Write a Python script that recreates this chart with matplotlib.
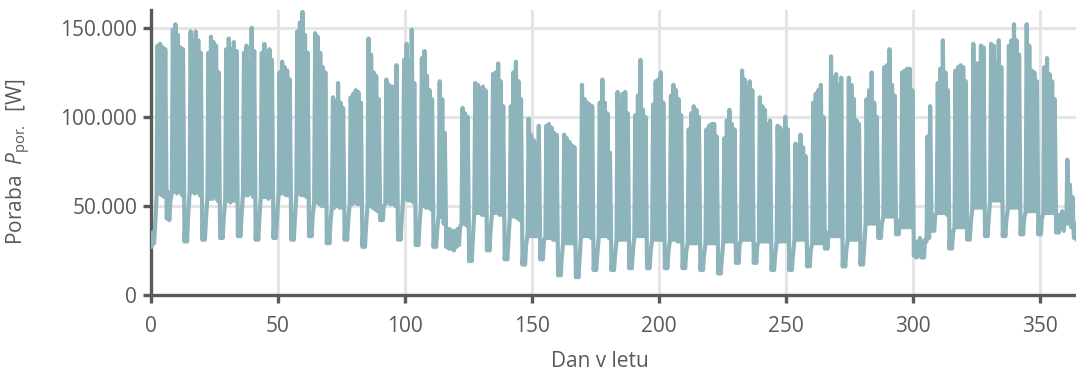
import numpy as np
import matplotlib
matplotlib.use("Agg")
import matplotlib.pyplot as plt
from matplotlib.ticker import FuncFormatter

# daily consumption extremes in kW, one row per week (Sun .. Sat)
daily_peak = [
    35, 38, 140, 141, 139, 138, 58,
    52, 149, 152, 146, 139, 138, 45,
    44, 148, 143, 148, 143, 136, 44,
    42, 136, 145, 142, 140, 125, 44,
    43, 138, 144, 138, 142, 137, 45,
    44, 136, 140, 130, 150, 137, 42,
    42, 136, 141, 134, 138, 132, 43,
    43, 125, 131, 128, 126, 121, 42,
    42, 148, 153, 159, 146, 136, 44,
    44, 147, 145, 136, 128, 125, 40,
    40, 111, 109, 119, 108, 105, 42,
    42, 111, 113, 115, 114, 108, 38,
    38, 144, 135, 125, 123, 110, 50,
    50, 121, 118, 117, 117, 129, 41,
    41, 132, 141, 132, 149, 119, 38,
    38, 133, 137, 123, 115, 110, 36,
    36, 120, 110, 91, 37, 37, 36,
    36, 37, 38, 105, 102, 100, 30,
    30, 119, 118, 116, 117, 115, 36,
    36, 124, 125, 130, 120, 106, 30,
    30, 106, 125, 131, 120, 110, 28,
    28, 99, 90, 87, 85, 95, 30,
    30, 95, 96, 94, 91, 90, 20,
    20, 90, 88, 86, 84, 83, 19,
    19, 118, 110, 108, 107, 106, 22,
    22, 108, 121, 108, 102, 80, 22,
    22, 114, 107, 113, 114, 102, 24,
    24, 101, 112, 132, 104, 100, 24,
    24, 107, 120, 121, 125, 108, 24,
    24, 112, 118, 115, 110, 101, 24,
    24, 93, 102, 106, 104, 100, 22,
    22, 93, 95, 96, 96, 89, 20,
    20, 88, 98, 104, 96, 93, 28,
    28, 126, 121, 116, 120, 115, 28,
    28, 111, 106, 104, 96, 98, 22,
    22, 95, 94, 92, 100, 93, 22,
    22, 85, 84, 90, 83, 78, 25,
    25, 108, 113, 115, 118, 100, 35,
    35, 134, 122, 124, 118, 122, 25,
    25, 122, 118, 110, 98, 96, 26,
    26, 110, 115, 125, 108, 100, 40,
    40, 128, 129, 138, 118, 112, 42,
    42, 125, 126, 127, 127, 115, 30,
    30, 32, 30, 31, 89, 106, 45,
    45, 119, 127, 143, 125, 115, 35,
    35, 126, 128, 129, 128, 120, 40,
    40, 141, 130, 130, 140, 139, 42,
    42, 141, 140, 130, 143, 128, 42,
    42, 140, 143, 152, 143, 135, 43,
    43, 152, 140, 126, 125, 120, 43,
    43, 128, 133, 124, 120, 110, 45,
    45, 47, 46, 76, 62, 55, 40,
    38,
]

daily_low = [
    27, 29, 56, 57, 56, 55, 43,
    42, 58, 58, 57, 58, 56, 30,
    30, 58, 58, 57, 58, 56, 31,
    31, 55, 54, 54, 55, 53, 32,
    32, 53, 53, 52, 53, 53, 33,
    33, 57, 56, 56, 57, 55, 31,
    31, 55, 55, 55, 54, 55, 32,
    32, 57, 57, 57, 56, 56, 31,
    31, 57, 57, 56, 56, 55, 33,
    33, 52, 52, 51, 50, 50, 29,
    29, 50, 49, 50, 49, 49, 31,
    31, 51, 51, 52, 51, 51, 27,
    27, 50, 50, 49, 48, 47, 42,
    42, 51, 52, 51, 51, 50, 31,
    31, 54, 54, 53, 53, 52, 28,
    28, 50, 50, 49, 49, 48, 27,
    27, 45, 44, 40, 27, 26, 26,
    25, 27, 28, 40, 40, 39, 19,
    19, 46, 46, 46, 45, 45, 25,
    25, 46, 46, 46, 45, 45, 20,
    20, 44, 44, 44, 43, 42, 17,
    17, 34, 33, 33, 33, 33, 20,
    20, 33, 32, 32, 31, 31, 11,
    11, 30, 29, 29, 29, 29, 10,
    10, 33, 33, 33, 33, 32, 14,
    14, 33, 33, 33, 33, 32, 14,
    14, 31, 31, 31, 31, 31, 15,
    15, 33, 33, 33, 33, 33, 15,
    15, 31, 31, 31, 31, 31, 15,
    15, 31, 31, 31, 30, 30, 15,
    15, 29, 29, 29, 29, 29, 14,
    14, 29, 29, 29, 29, 29, 12,
    12, 30, 30, 30, 30, 30, 18,
    18, 31, 31, 31, 31, 31, 18,
    18, 30, 30, 30, 30, 30, 14,
    14, 30, 30, 30, 30, 30, 14,
    14, 31, 31, 31, 31, 31, 16,
    16, 29, 29, 29, 29, 29, 26,
    26, 33, 33, 33, 33, 33, 16,
    16, 31, 31, 31, 31, 31, 17,
    17, 40, 40, 40, 40, 40, 32,
    32, 44, 44, 44, 44, 44, 34,
    34, 38, 38, 38, 38, 38, 22,
    21, 22, 21, 21, 30, 32, 36,
    36, 46, 46, 46, 46, 45, 26,
    26, 38, 38, 38, 38, 38, 31,
    31, 49, 49, 49, 49, 49, 33,
    33, 53, 53, 53, 53, 53, 33,
    33, 49, 49, 49, 49, 49, 34,
    34, 47, 47, 47, 47, 47, 34,
    34, 46, 46, 46, 46, 46, 35,
    35, 37, 36, 40, 40, 38, 32,
    31,
]

x_ticks = [0, 50, 100, 150, 200, 250, 300, 350]
y_ticks = [0, 50000, 100000, 150000]

grey = "#595959"
line_color = "#8cb4ba"

plt.rcParams["font.family"] = ["Open Sans", "DejaVu Sans"]
plt.rcParams["mathtext.fontset"] = "custom"
plt.rcParams["mathtext.rm"] = "Open Sans"
plt.rcParams["mathtext.it"] = "Open Sans:italic"

# night minimum then daytime maximum for every day
days = np.arange(len(daily_peak))
x = np.column_stack([days + 0.2, days + 0.6]).ravel()
y = np.column_stack([daily_low, daily_peak]).ravel() * 1000.0

fig = plt.figure(figsize=(10.76, 3.73), dpi=100)
ax = fig.add_axes([151 / 1076, 78 / 373, 925 / 1076, 285 / 373])

ax.plot(x, y, color=line_color, linewidth=3.0, solid_joinstyle="round",
        solid_capstyle="round", zorder=3)

ax.set_xlim(0, 364)
ax.set_ylim(0, 160000)
ax.set_xticks(x_ticks)
ax.set_yticks(y_ticks)
ax.yaxis.set_major_formatter(FuncFormatter(lambda v, p: f"{v:,.0f}".replace(",", ".")))

ax.grid(True, color="#e5e5e5", linewidth=2.2, zorder=0)
ax.set_axisbelow(True)

for side in ("top", "right"):
    ax.spines[side].set_visible(False)
for side in ("left", "bottom"):
    ax.spines[side].set_color(grey)
    ax.spines[side].set_linewidth(2.4)

ax.tick_params(axis="both", colors=grey, labelcolor=grey, labelsize=15,
               width=2.4, length=6, direction="out")
ax.tick_params(axis="x", pad=9)
ax.tick_params(axis="y", pad=4)

ax.set_xlabel("Dan v letu", fontsize=15, color=grey)
ax.xaxis.set_label_coords(0.485, -0.195)
ax.set_ylabel(r"Poraba  $P_{\mathregular{por.}}$  [W]", fontsize=15, color=grey)
ax.yaxis.set_label_coords(-0.128, 0.47)

fig.savefig("out.png", dpi=100)
